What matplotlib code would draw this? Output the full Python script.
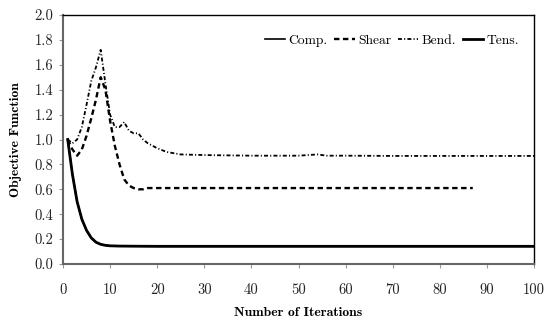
import matplotlib
matplotlib.use("Agg")
import matplotlib.pyplot as plt

# Data
tens_x = [1, 2, 3, 4, 5, 6, 7, 8, 9, 10, 12, 15, 20, 30, 50, 70, 100]
tens_y = [1.0, 0.72, 0.50, 0.36, 0.27, 0.21, 0.175, 0.158, 0.15, 0.146, 0.144, 0.143, 0.142, 0.142, 0.142, 0.142, 0.142]
comp_x = tens_x
comp_y = tens_y

shear_x = [1, 2, 3, 4, 5, 6, 7, 8, 9, 10, 11, 12, 13, 14, 15, 16, 17, 18, 20, 30, 50, 70, 87]
shear_y = [1.0, 0.92, 0.87, 0.92, 1.03, 1.17, 1.32, 1.50, 1.40, 1.15, 0.95, 0.80, 0.68, 0.63, 0.61, 0.60, 0.60, 0.61, 0.61, 0.61, 0.61, 0.61, 0.61]

bend_x = [1, 2, 3, 4, 5, 6, 7, 8, 9, 10, 11, 12, 13, 14, 15, 16, 17, 18, 20, 22, 25, 30, 40, 50, 54, 56, 60, 70, 80, 90, 100]
bend_y = [1.0, 0.97, 1.00, 1.10, 1.28, 1.47, 1.58, 1.72, 1.45, 1.20, 1.10, 1.10, 1.14, 1.07, 1.05, 1.05, 1.00, 0.97, 0.93, 0.90, 0.88, 0.875, 0.87, 0.87, 0.88, 0.87, 0.87, 0.868, 0.868, 0.868, 0.868]

x_ticks = [0, 10, 20, 30, 40, 50, 60, 70, 80, 90, 100]
y_ticks = [0.0, 0.2, 0.4, 0.6, 0.8, 1.0, 1.2, 1.4, 1.6, 1.8, 2.0]

plt.rcParams['font.family'] = ['cmr10', 'DejaVu Serif']
plt.rcParams['axes.formatter.use_mathtext'] = True

fig = plt.figure(figsize=(5.5, 3.23), dpi=100)
ax = fig.add_axes([63/550, 1 - 264/323, (534-63)/550, (264-15)/323])

ax.plot(comp_x, comp_y, color='black', lw=1.2, label='Comp.')
ax.plot(shear_x, shear_y, color='black', lw=1.7, ls=(0, (2.3, 1.5)), label='Shear')
ax.plot(bend_x, bend_y, color='black', lw=1.3, ls=(0, (2.2, 1.2, 0.6, 1.2)), label='Bend.')
ax.plot(tens_x, tens_y, color='black', lw=2.0, label='Tens.')

ax.set_xlim(0, 100)
ax.set_ylim(0, 2.0)
ax.set_xticks(x_ticks)
ax.set_yticks(y_ticks)
ax.set_xticklabels([str(v) for v in x_ticks])
ax.set_yticklabels([f"{v:.1f}" for v in y_ticks])
ax.tick_params(axis='both', labelsize=10.5, colors='#222222', length=3, width=0.8)
ax.tick_params(axis='x', pad=11, color='#999999')
ax.tick_params(axis='y', pad=4, color='#999999')

for s in ['top', 'right']:
    ax.spines[s].set_color('black')
    ax.spines[s].set_linewidth(1.0)
for s in ['left', 'bottom']:
    ax.spines[s].set_color('#666666')
    ax.spines[s].set_linewidth(1.5)

ax.set_xlabel('Number of Iterations', fontfamily=['cmb10', 'DejaVu Serif'], fontsize=9.8, labelpad=7)
ax.set_ylabel('Objective Function', fontfamily=['cmb10', 'DejaVu Serif'], fontsize=9.8, labelpad=9)

leg = ax.legend(loc='upper right', ncol=4, frameon=False, fontsize=9.8,
                handlelength=1.5, handletextpad=0.25, columnspacing=0.5,
                bbox_to_anchor=(0.995, 0.97))

fig.savefig('out.png', dpi=100)
